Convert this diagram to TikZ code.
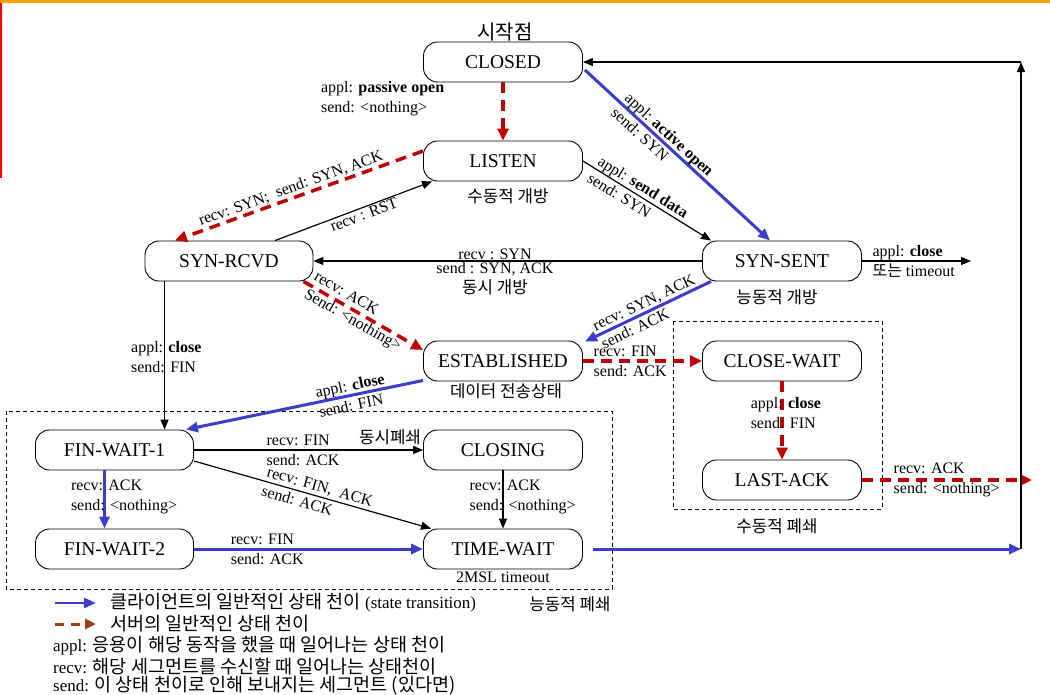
\documentclass[tikz,border=0pt]{standalone}
\usepackage{fontspec}
\setmainfont{Liberation Serif}
\newfontfamily\kr{Noto Sans CJK KR}
\usepackage{tikz}
\usetikzlibrary{arrows.meta,calc}
\definecolor{cliblue}{RGB}{60,60,205}
\definecolor{srvred}{RGB}{192,0,0}
\definecolor{lgdbrown}{RGB}{165,60,15}
\definecolor{topbar}{RGB}{255,160,20}

\begin{document}
\begin{tikzpicture}[x=1pt, y=-1pt,
  tcpstate/.style={draw, line width=0.9pt, rounded corners=14pt, minimum width=159pt, minimum height=40pt, inner sep=0pt, font=\fontsize{19.5}{22}\selectfont},
  lbl/.style={font=\fontsize{16}{20}\selectfont, inner sep=1pt, align=left},
  note/.style={font=\kr\fontsize{16.8}{20}\selectfont, inner sep=0pt},
  lgnd/.style={font=\fontsize{17}{20}\selectfont, inner sep=0pt, anchor=west},
  blk/.style={line width=1.2pt, -{Triangle[length=10pt,width=8pt]}},
  cli/.style={draw=cliblue, line width=3pt, -{Triangle[length=12pt,width=10pt]}},
  srv/.style={draw=srvred, line width=3.5pt, dash pattern=on 11pt off 7pt, -{Triangle[length=12pt,width=11pt]}},
  zone/.style={draw, line width=0.8pt, dash pattern=on 4pt off 3pt}]

\useasboundingbox (0,0) rectangle (1050,694);
\draw[topbar, line width=3pt] (0,1.5) -- (1050,1.5);
\draw[red, line width=1.6pt] (1,3) -- (1,178);

% states
\node[tcpstate] (closed) at (503,62) {CLOSED};
\node[tcpstate] (listen) at (503,161) {LISTEN};
\node[tcpstate, minimum width=168pt] (synrcvd) at (229,261) {SYN-RCVD};
\node[tcpstate] (synsent) at (782,261) {SYN-SENT};
\node[tcpstate] (established) at (503,361) {ESTABLISHED};
\node[tcpstate] (closewait) at (782,361) {CLOSE-WAIT};
\node[tcpstate] (lastack) at (782,480) {LAST-ACK};
\node[tcpstate, minimum width=158pt] (finwait1) at (114.5,450) {FIN-WAIT-1};
\node[tcpstate] (closing) at (503,450) {CLOSING};
\node[tcpstate, minimum width=158pt] (finwait2) at (114.5,549) {FIN-WAIT-2};
\node[tcpstate] (timewait) at (503,549) {TIME-WAIT};

% notes
\node[note, font=\kr\fontsize{20}{22}\selectfont] (start) at (505,32) {시작점};
\node[note] (passopen) at (508,196) {수동적 개방};
\node[note] (actopen) at (777,297) {능동적 개방};
\node[note] (datanote) at (506,391) {데이터 전송상태};
\node[lbl] (msl) at (503,577) {2MSL timeout};
\node[note] (simclose) at (390,437) {동시폐쇄};
\node[note] (passclose) at (777,526) {수동적 폐쇄};
\node[note] (actclose) at (570,604) {능동적 폐쇄};

\draw[zone] (6,411) rectangle (612,589);
\draw[zone] (673,321) rectangle (882,509);

% transitions
\draw[srv] (closed) -- node[lbl, pos=.28, left=56pt] {appl: \textbf{passive open}\\send: <nothing>} (listen);
\draw[cli] ($(closed.east)+(2,8)$) -- node[lbl, sloped, pos=.42] {appl: \textbf{active open}\\send: SYN} ($(synsent.north)+(-12,0)$);
\draw[blk] (listen.east) -- node[lbl, sloped, pos=.43] {appl: \textbf{send data}\\send: SYN} ($(synsent.north west)+(9,0)$);
\draw[srv] ($(listen.west)+(0,-10)$) -- node[lbl, sloped, above, pos=.52] {recv: SYN;\ \ send: SYN, ACK} ($(synrcvd.north)+(-54,0)$);
\draw[blk] ($(synrcvd.north)+(46,0)$) -- node[lbl, sloped, below, pos=.55] {recv : RST} ($(listen.south west)+(9,0)$);
\draw[blk] (synsent) -- node[lbl, above, pos=.533, align=center] {recv : SYN}
  node[lbl, below, pos=.533, align=center] {send : SYN, ACK\\{\kr\fontsize{16.8}{20}\selectfont 동시 개방}} (synrcvd);
\draw[srv] ($(synrcvd.south east)+(-10,0)$) -- node[lbl, sloped, pos=.45] {recv: ACK\\Send: <nothing>} ($(established.west)+(0,-11)$);
\draw[cli] ($(synsent.south west)+(9,0)$) -- node[lbl, sloped, pos=.5] {recv: SYN, ACK\\send: ACK} ($(established.north east)+(2,1)$);
\draw[srv] (established) -- node[lbl, pos=0, anchor=west, xshift=8pt] {recv: FIN\\send: ACK} (closewait);
\draw[srv] (closewait) -- node[lbl, pos=.41, anchor=west, xshift=-34pt] {appl: \textbf{close}\\send: FIN} (lastack);

\coordinate (lastout) at (1032,480);
\draw[srv] (lastack) -- node[lbl, pos=0, anchor=west, xshift=29pt] {recv: ACK\\send: <nothing>} (lastout);
\coordinate (sentout) at (971,261);
\draw[blk] (synsent) -- node[lbl, pos=0, anchor=west, xshift=9pt] {appl: \textbf{close}\\{\kr 또는} timeout} (sentout);

\coordinate (rcvdown) at ($(synrcvd.south west)+(20,0)$);
\draw[blk] (rcvdown) -- node[lbl, pos=.51, anchor=west, xshift=-35pt] {appl: \textbf{close}\\send: FIN} (rcvdown |- finwait1.north);
\draw[cli] ($(established.south west)+(0,-1)$) -- node[lbl, sloped, pos=.3] {appl: \textbf{close}\\send: FIN} ($(finwait1.north east)+(-8,0)$);

\draw[blk] (finwait1) -- node[lbl, pos=.31, anchor=west] {recv: FIN\\send: ACK} (closing);
\draw[blk] ($(finwait1.east)+(0,11)$) -- node[lbl, sloped, pos=.52] {recv: FIN,\ \ ACK\\send: ACK} ($(timewait.north west)+(8,0)$);
\draw[cli] ($(finwait1.south)+(-10,0)$) -- node[lbl, pos=.45, anchor=west, xshift=-36pt] {recv: ACK\\send: <nothing>} ($(finwait2.north)+(-10,0)$);
\draw[blk] (closing) -- node[lbl, pos=.45, anchor=west, xshift=-35pt] {recv: ACK\\send: <nothing>} (timewait);
\draw[cli] (finwait2) -- node[lbl, pos=.15, anchor=west] {recv: FIN\\send: ACK} (timewait);

\coordinate (corner) at (1021,549);
\coordinate (topcorner) at (1021,62);
\draw[cli, shorten <=10pt] (timewait) -- (corner);
\draw[blk] (corner) -- (topcorner);
\draw[blk] (topcorner) -- (closed);

% legend
\coordinate (lga) at (55,603);
\coordinate (lgb) at (96,603);
\coordinate (lgc) at (55,624);
\coordinate (lgd) at (96,624);
\draw[cli, line width=2.5pt] (lga) -- (lgb);
\draw[lgdbrown, line width=3pt, dash pattern=on 9pt off 7pt, -{Triangle[length=11pt,width=10pt]}] (lgc) -- (lgd);
\node[lgnd] (lgtxt1) at (110,603) {{\kr\fontsize{18.5}{20}\selectfont 클라이언트의 일반적인 상태 천이} (state transition)};
\node[lgnd] (lgtxt2) at (110,624) {\kr\fontsize{18.5}{20}\selectfont 서버의 일반적인 상태 천이};
\node[lgnd] (lgappl) at (53,646) {appl: {\kr\fontsize{18.5}{20}\selectfont 응용이 해당 동작을 했을 때 일어나는 상태 천이}};
\node[lgnd] (lgrecv) at (53,666) {recv: {\kr\fontsize{18.5}{20}\selectfont 해당 세그먼트를 수신할 때 일어나는 상태천이}};
\node[lgnd] (lgsend) at (53,686) {send: {\kr\fontsize{18.5}{20}\selectfont 이 상태 천이로 인해 보내지는 세그먼트 (있다면)}};
\end{tikzpicture}
\end{document}
